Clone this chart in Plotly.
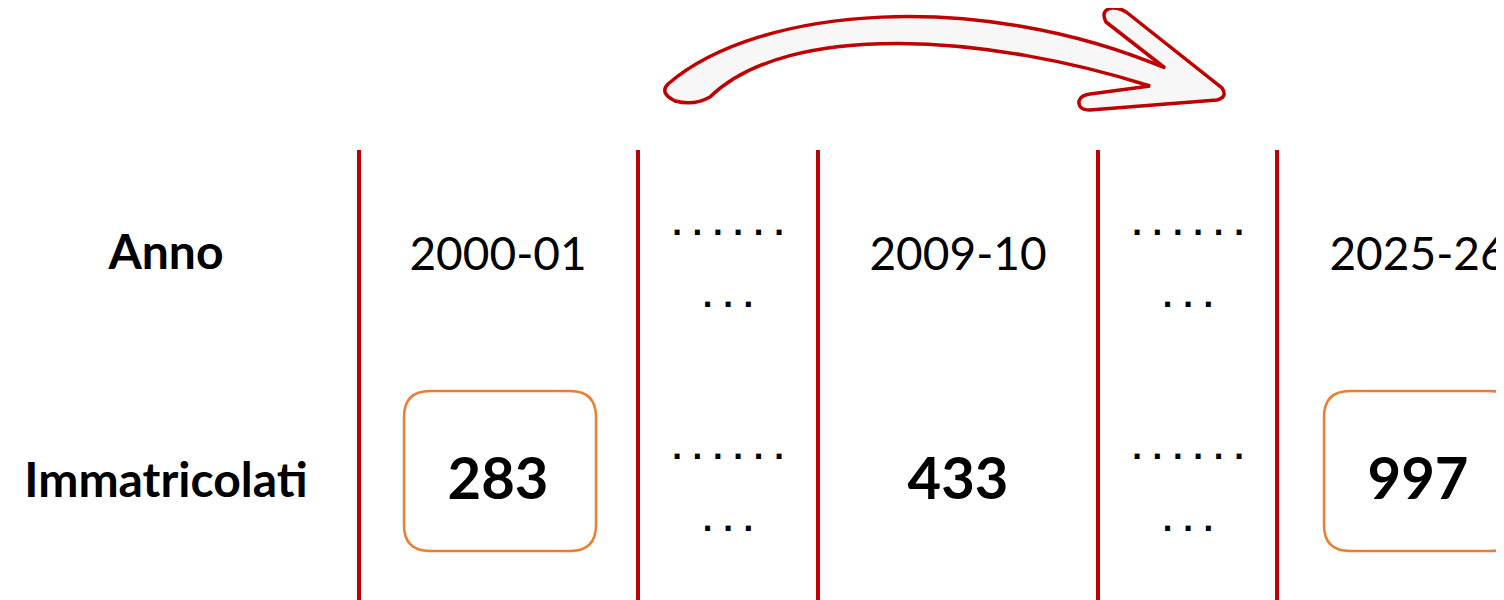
import plotly.graph_objects as go

# ---- data ----
row_labels = ["Anno", "Immatricolati"]
years = ["2000-01", "2009-10", "2025-26"]
enrolled = [283, 433, 997]
boxed = [True, False, True]

# ---- layout constants (pixel space of the page) ----
W, H = 1504, 600
OFF = 8  # default body margin of the html page
label_x = 166
col_x = [498, 958, 1418]
gap_x = [728, 1188]
divider_x = [359, 638, 818, 1098, 1277]
row_y = [258, 484]
dot_rows = [(228, 300), (452, 524)]
RED = "#C00000"
ORANGE = "#ED7D31"

fig = go.Figure()

# row labels
fig.add_trace(go.Scatter(
    x=[label_x] * len(row_labels), y=[row_y[0] - 1, row_y[1] + 1], mode="text",
    text=[f"<b>{t}</b>" for t in row_labels],
    textfont=dict(family="Lato", size=48, color="black"), hoverinfo="skip", showlegend=False))

# years
fig.add_trace(go.Scatter(
    x=col_x, y=[row_y[0]] * len(years), mode="text", text=years,
    textfont=dict(family="Lato", size=46, color="black"), hoverinfo="skip", showlegend=False))

# enrolled numbers
fig.add_trace(go.Scatter(
    x=col_x, y=[row_y[1]] * len(enrolled), mode="text", text=[f"<b>{v}</b>" for v in enrolled],
    textfont=dict(family="Lato", size=58, color="black"), hoverinfo="skip", showlegend=False))

# ellipsis dots
dx, dy, dt = [], [], []
for gx in gap_x:
    for (y1, y2) in dot_rows:
        dx += [gx, gx]
        dy += [y1, y2]
        dt += ["<b>. . . . . .</b>", "<b>. . .</b>"]
fig.add_trace(go.Scatter(
    x=dx, y=dy, mode="text", text=dt,
    textfont=dict(family="DejaVu Sans", size=28, color="black"), hoverinfo="skip", showlegend=False))

shapes = []
for x in divider_x:
    shapes.append(dict(type="line", x0=x, x1=x, y0=150, y1=H + 10, xref="x", yref="y",
                       line=dict(color=RED, width=4)))


def rrect(x0, y0, x1, y1, r):
    return (f"M {x0+r},{y0} L {x1-r},{y0} Q {x1},{y0} {x1},{y0+r} L {x1},{y1-r} "
            f"Q {x1},{y1} {x1-r},{y1} L {x0+r},{y1} Q {x0},{y1} {x0},{y1-r} "
            f"L {x0},{y0+r} Q {x0},{y0} {x0+r},{y0} Z")


for cx, b in zip(col_x, boxed):
    if b:
        shapes.append(dict(type="path", path=rrect(cx - 94, 391, cx + 98, 551, 26),
                           xref="x", yref="y", line=dict(color=ORANGE, width=2.5), layer="below"))

arrow = ("M 668,84 C 760,5 980,-10 1165,68 L 1106,22 Q 1100,10 1112,8 Q 1121,7 1130,15 "
         "L 1222,88 Q 1228,97 1217,100 L 1090,110 Q 1078,110 1079,101 Q 1081,95 1090,94 "
         "L 1150,86 C 990,35 790,20 710,97 Q 694,106 675,101 Q 659,93 668,84 Z")
shapes.append(dict(type="path", path=arrow, xref="x", yref="y",
                   fillcolor="#F7F7F7", line=dict(color=RED, width=3.5)))

fig.update_layout(
    width=W - OFF, height=H - OFF, margin=dict(l=0, r=0, t=0, b=0),
    paper_bgcolor="white", plot_bgcolor="white",
    xaxis=dict(range=[OFF, W], visible=False, fixedrange=True),
    yaxis=dict(range=[H, OFF], visible=False, fixedrange=True),
    shapes=shapes, showlegend=False,
)

fig.write_html("out.html")
